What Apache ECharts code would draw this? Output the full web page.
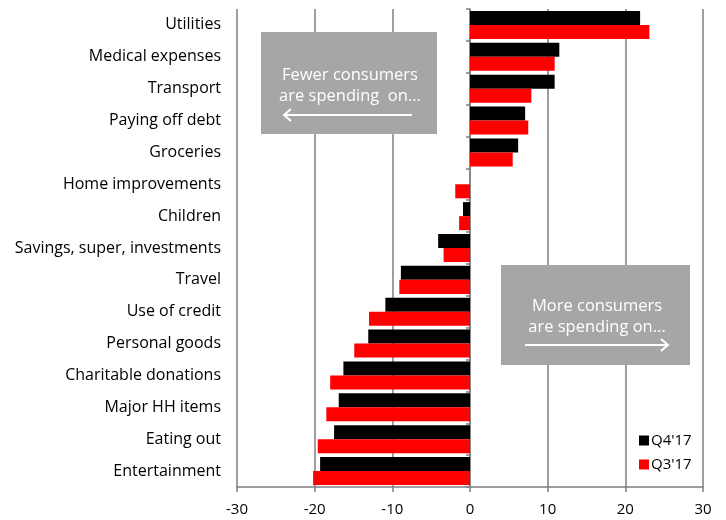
<!DOCTYPE html>
<html>
<head>
<meta charset="utf-8">
<script src="https://cdn.jsdelivr.net/npm/echarts@6/dist/echarts.min.js"></script>
<style>
  html, body { margin: 0; padding: 0; background: #fff; }
  #chart { width: 726px; height: 520px; }
</style>
</head>
<body>
<div id="chart"></div>
<script>
// Spending categories, listed top to bottom
const categories = [
  'Utilities', 'Medical expenses', 'Transport', 'Paying off debt', 'Groceries',
  'Home improvements', 'Children', 'Savings, super, investments', 'Travel',
  'Use of credit', 'Personal goods', 'Charitable donations', 'Major HH items',
  'Eating out', 'Entertainment'
];

// Net balance of consumers spending more / less
const q4_17 = [21.9, 11.5, 10.9, 7.1, 6.2, 0, -0.9, -4.1, -8.9, -10.9, -13.1, -16.3, -16.9, -17.5, -19.3];
const q3_17 = [23.1, 10.9, 7.9, 7.5, 5.5, -1.9, -1.4, -3.4, -9.1, -13.0, -14.9, -18.0, -18.5, -19.6, -20.2];

const seriesNames = ["Q4'17", "Q3'17"];
const xMin = -30, xMax = 30, xStep = 10;

const FONT = '"Open Sans", "Noto Sans", sans-serif';
const GRID_COLOR = '#7f7f7f';

const chart = echarts.init(document.getElementById('chart'), null, { renderer: 'canvas' });

function arrow(x1, x2, y, dir) {
  const h = 6;
  return [
    { type: 'line', shape: { x1: x1, y1: y, x2: x2, y2: y },
      style: { stroke: '#fff', lineWidth: 2 }, z: 20 },
    { type: 'polyline',
      shape: { points: dir < 0
        ? [[x2 + h + 1, y - h], [x2, y], [x2 + h + 1, y + h]]
        : [[x2 - h - 1, y - h], [x2, y], [x2 - h - 1, y + h]] },
      style: { stroke: '#fff', lineWidth: 2, fill: null }, z: 20 }
  ];
}

function boxText(x, y, text) {
  return { type: 'text', x: x, y: y, z: 20,
    style: { text: text, fill: '#fff', font: '16.5px ' + FONT,
             textAlign: 'center', textVerticalAlign: 'middle' } };
}

const option = {
  animation: false,
  backgroundColor: '#fff',
  textStyle: { fontFamily: FONT },
  grid: { left: 237, right: 23, top: 9, bottom: 33, containLabel: false },
  legend: {
    orient: 'vertical',
    left: 634, top: 428,
    itemWidth: 10, itemHeight: 10, itemGap: 9,
    icon: 'rect',
    textStyle: { fontFamily: FONT, fontSize: 15, color: '#000', padding: [0, 0, 0, -3] },
    data: seriesNames
  },
  xAxis: {
    type: 'value',
    min: xMin, max: xMax, interval: xStep,
    axisLine: { show: true, onZero: false, lineStyle: { color: GRID_COLOR, width: 1.5 } },
    axisTick: { show: true, length: 5, lineStyle: { color: GRID_COLOR, width: 1.5 } },
    axisLabel: { fontFamily: FONT, fontSize: 15, color: '#000', margin: 15 },
    splitLine: { show: true, lineStyle: { color: GRID_COLOR, width: 1.5 } }
  },
  yAxis: [
    {
      type: 'category',
      data: categories,
      inverse: true,
      axisLine: { show: false, onZero: false },
      axisTick: { show: false },
      axisLabel: { fontFamily: FONT, fontSize: 16, color: '#000', margin: 16 }
    },
    {
      type: 'category',
      data: categories,
      inverse: true,
      position: 'left',
      axisLine: { show: true, onZero: true, lineStyle: { color: GRID_COLOR, width: 1.5 } },
      axisTick: { show: true, length: 4, inside: false, lineStyle: { color: GRID_COLOR, width: 1.5 } },
      axisLabel: { show: false },
      splitLine: { show: false }
    }
  ],
  series: [
    {
      name: seriesNames[0], type: 'bar', yAxisIndex: 0,
      data: q4_17,
      itemStyle: { color: '#000000' },
      barGap: '0%', barCategoryGap: '12%', z: 3
    },
    {
      name: seriesNames[1], type: 'bar', yAxisIndex: 0,
      data: q3_17,
      itemStyle: { color: '#ff0000' },
      barGap: '0%', barCategoryGap: '12%', z: 3
    }
  ],
  graphic: [
    { type: 'rect', shape: { x: 261, y: 32, width: 176, height: 102 },
      style: { fill: '#a6a6a6' }, z: 10 },
    boxText(350, 75, 'Fewer consumers'),
    boxText(350, 96, 'are spending  on...'),
    ...arrow(412, 284, 115, -1),

    { type: 'rect', shape: { x: 501, y: 265, width: 189, height: 100 },
      style: { fill: '#a6a6a6' }, z: 10 },
    boxText(597, 306, 'More consumers'),
    boxText(597, 327, 'are spending on...'),
    ...arrow(525, 668, 345, 1)
  ]
};

chart.setOption(option);
</script>
</body>
</html>
